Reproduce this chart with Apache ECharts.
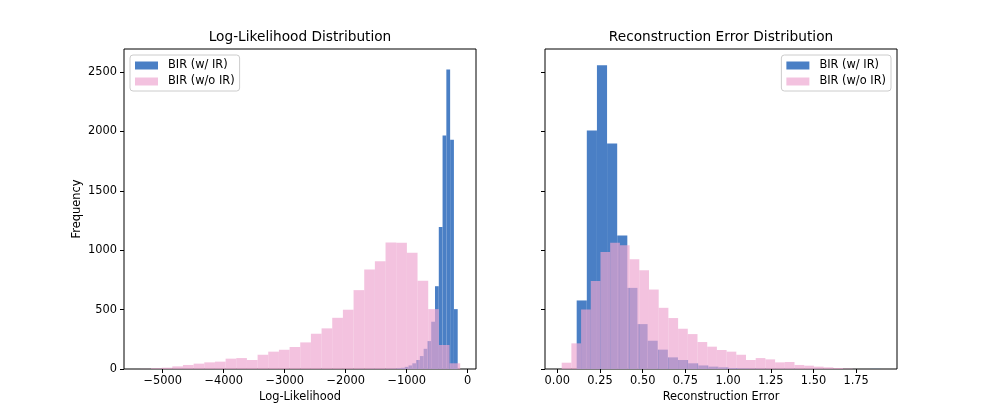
<!DOCTYPE html>
<html>
<head>
<meta charset="utf-8">
<script src="https://cdn.jsdelivr.net/npm/echarts@6/dist/echarts.min.js"></script>
<style>
html,body{margin:0;padding:0;background:#fff;}
#chart{width:997px;height:415px;}
</style>
</head>
<body>
<div id="chart"></div>
<script>
// ---- Data ----
const seriesNames = ['BIR (w/ IR)', 'BIR (w/o IR)'];

// Log-likelihood histograms: bin start, bin width, counts per bin
const llBlueStart = -2024;
const llBlueWidth = 62;
const llBlueCounts = [0, 0, 0, 0, 1, 0, 1, 1, 1, 1, 1, 2, 2, 3, 6, 10, 18, 30, 48, 76, 109, 170, 235, 398, 697, 1196, 1966, 2521, 1930, 504];

const llPinkStart = -5367;
const llPinkWidth = 174.8;
const llPinkCounts = [1, 6, 11, 22, 34, 45, 56, 62, 87, 92, 76, 120, 146, 162, 185, 224, 297, 342, 431, 499, 664, 838, 908, 1064, 1062, 978, 742, 504, 202, 48];

// Reconstruction-error histograms
const reBlueStart = 0.1135;
const reBlueWidth = 0.0593;
const reBlueCounts = [577, 2008, 2557, 1899, 1123, 683, 378, 238, 163, 98, 76, 48, 30, 20, 14, 8, 5, 3, 2, 1, 1, 1, 0, 1, 0, 0, 0, 0, 0, 1];

const rePinkStart = 0.0257;
const rePinkWidth = 0.0568;
const rePinkCounts = [53, 216, 501, 740, 986, 1062, 1042, 924, 832, 669, 515, 429, 339, 294, 227, 188, 160, 146, 120, 76, 92, 81, 56, 59, 34, 28, 20, 14, 8, 3];

// Tick values and labels
const llTicks = [-5000, -4000, -3000, -2000, -1000, 0];
const llTickLabels = ['\u22125000', '\u22124000', '\u22123000', '\u22122000', '\u22121000', '0'];
const reTicks = [0, 0.25, 0.5, 0.75, 1.0, 1.25, 1.5, 1.75];
const reTickLabels = ['0.00', '0.25', '0.50', '0.75', '1.00', '1.25', '1.50', '1.75'];
const freqTicks = [0, 500, 1000, 1500, 2000, 2500];
const freqTickLabels = ['0', '500', '1000', '1500', '2000', '2500'];

// ---- Styling ----
const FONT = 'DejaVu Sans';
const BLUE = '#4a7fc5';
const PINK = 'rgba(238,165,208,0.68)';

function binData(start, width, counts) {
  return counts.map((c, i) => [start + i * width, start + (i + 1) * width, c]);
}

function histSeries(name, start, width, counts, color, axisIdx) {
  return {
    type: 'custom',
    name: name,
    xAxisIndex: axisIdx,
    yAxisIndex: axisIdx,
    itemStyle: { color: color },
    encode: { x: [0, 1], y: 2 },
    data: binData(start, width, counts),
    renderItem: function (params, api) {
      const p0 = api.coord([api.value(0), api.value(2)]);
      const p1 = api.coord([api.value(1), 0]);
      return {
        type: 'rect',
        shape: { x: p0[0], y: p0[1], width: p1[0] - p0[0], height: p1[1] - p0[1] },
        style: { fill: color }
      };
    },
    silent: true
  };
}

function labelFmt(ticks, labels) {
  return function (v) {
    for (let i = 0; i < ticks.length; i++) {
      if (Math.abs(ticks[i] - v) < 1e-9) return labels[i];
    }
    return '';
  };
}

const axisText = { color: '#000', fontFamily: FONT, fontSize: 11.4 };
const tickStyle = { show: true, inside: false, length: 4, lineStyle: { color: '#000', width: 1 } };

const chart = echarts.init(document.getElementById('chart'), null, { renderer: 'canvas' });

const legendCommon = {
  data: seriesNames,
  orient: 'vertical',
  top: 55,
  icon: 'rect',
  itemWidth: 23,
  itemHeight: 8,
  itemGap: 5,
  padding: [5, 5, 4, 5],
  borderColor: '#cccccc',
  borderWidth: 1,
  borderRadius: 3,
  backgroundColor: 'rgba(255,255,255,0.8)',
  textStyle: { color: '#000', fontFamily: FONT, fontSize: 11.4, padding: [0, 0, 0, 5] },
  selectedMode: false
};

chart.setOption({
  animation: false,
  backgroundColor: '#fff',
  title: [
    { text: 'Log-Likelihood Distribution', left: 300, top: 30, textAlign: 'center', padding: 0,
      textStyle: { color: '#000', fontFamily: FONT, fontSize: 13.7, fontWeight: 'normal' } },
    { text: 'Reconstruction Error Distribution', left: 721, top: 30, textAlign: 'center', padding: 0,
      textStyle: { color: '#000', fontFamily: FONT, fontSize: 13.7, fontWeight: 'normal' } }
  ],
  legend: [
    Object.assign({}, legendCommon, { left: 130 }),
    Object.assign({}, legendCommon, { right: 106 })
  ],
  grid: [
    { left: 124, right: 521, top: 49, bottom: 46, show: true, borderColor: '#000', borderWidth: 1, backgroundColor: 'transparent' },
    { left: 545, right: 100, top: 49, bottom: 46, show: true, borderColor: '#000', borderWidth: 1, backgroundColor: 'transparent' }
  ],
  xAxis: [
    {
      type: 'value', gridIndex: 0, min: -5634, max: 136,
      name: 'Log-Likelihood', nameLocation: 'middle', nameGap: 22, nameTextStyle: axisText,
      axisLine: { show: false, onZero: false },
      splitLine: { show: false },
      axisTick: Object.assign({ customValues: llTicks }, tickStyle),
      axisLabel: Object.assign({ margin: 7, customValues: llTicks, formatter: labelFmt(llTicks, llTickLabels) }, axisText)
    },
    {
      type: 'value', gridIndex: 1, min: -0.072, max: 1.989,
      name: 'Reconstruction Error', nameLocation: 'middle', nameGap: 22, nameTextStyle: axisText,
      axisLine: { show: false, onZero: false },
      splitLine: { show: false },
      axisTick: Object.assign({ customValues: reTicks }, tickStyle),
      axisLabel: Object.assign({ margin: 7, customValues: reTicks, formatter: labelFmt(reTicks, reTickLabels) }, axisText)
    }
  ],
  yAxis: [
    {
      type: 'value', gridIndex: 0, min: 0, max: 2694,
      name: 'Frequency', nameLocation: 'middle', nameGap: 41, nameRotate: 90, nameTextStyle: axisText,
      axisLine: { show: false, onZero: false },
      splitLine: { show: false },
      axisTick: Object.assign({ customValues: freqTicks }, tickStyle),
      axisLabel: Object.assign({ margin: 7, customValues: freqTicks, formatter: labelFmt(freqTicks, freqTickLabels) }, axisText)
    },
    {
      type: 'value', gridIndex: 1, min: 0, max: 2694,
      axisLine: { show: false, onZero: false },
      splitLine: { show: false },
      axisTick: Object.assign({ customValues: freqTicks }, tickStyle),
      axisLabel: { show: false }
    }
  ],
  series: [
    histSeries(seriesNames[0], llBlueStart, llBlueWidth, llBlueCounts, BLUE, 0),
    histSeries(seriesNames[1], llPinkStart, llPinkWidth, llPinkCounts, PINK, 0),
    histSeries(seriesNames[0], reBlueStart, reBlueWidth, reBlueCounts, BLUE, 1),
    histSeries(seriesNames[1], rePinkStart, rePinkWidth, rePinkCounts, PINK, 1)
  ]
});
</script>
</body>
</html>
